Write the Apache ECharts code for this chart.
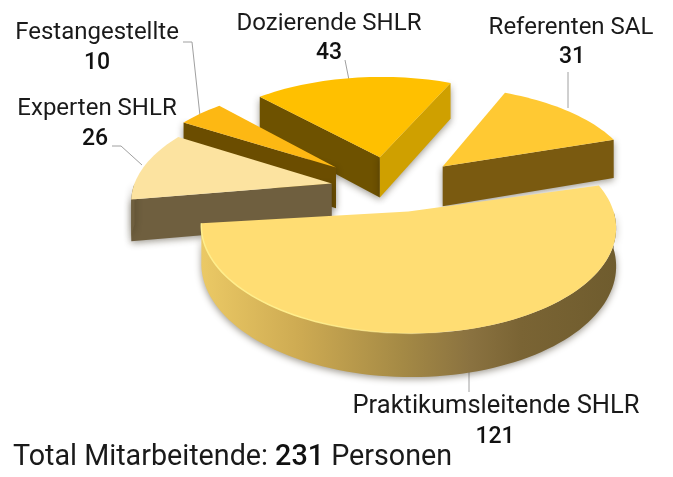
<!DOCTYPE html>
<html>
<head>
<meta charset="utf-8">
<title>Mitarbeitende</title>
<style>
  html, body { margin: 0; padding: 0; background: #fff; }
  #chart { width: 673px; height: 477px; }
</style>
<script src="https://cdn.jsdelivr.net/npm/echarts@6/dist/echarts.min.js"></script>
</head>
<body>
<div id="chart"></div>
<script>
// werte, im uhrzeigersinn ab dem grossen stueck
const categories = ['Praktikumsleitende SHLR', 'Experten SHLR', 'Festangestellte', 'Dozierende SHLR', 'Referenten SAL'];
const values = [121, 26, 10, 43, 31];
const totalLabel = 231;

// aussehen pro stueck (gleiche reihenfolge wie categories)
const topColors = ['#FFDD73', '#FCE3A0', '#FDB813', '#FFC000', '#FFC933'];
const wallColors = ['#7A6434', '#6F5F3F', '#6B4D00', '#6E5200', '#7A5A10'];
const endWallColors = ['#7A6434', '#6F5F3F', '#6B4D00', '#CFA000', '#7A5A10'];
const offsets = [[0.081, 0.257], [-0.31, -0.027], [-0.295, -0.20], [-0.065, -0.315], [0.2675, -0.211]];
const scales = [1.015, 1.015, 1.03, 1.04, 1];
const depths = [36, 41, 42, 42, 41];
const angleShift = [3, 0, 0, 0, 0];
const drawOrder = [5, 4, 3, 1, 2];

// pseudo 3d kamera
const cx = 392, cy = 186, R = 195, tilt = 0.49, persp = 0.138;
const startAngle = -18;

const total = values.reduce((a, b) => a + b, 0);
const rad = Math.PI / 180;

function project(X, Y, Z) {
  const w = 1 / (1 - persp * Y);
  return [cx + R * X * w, cy + (R * tilt * Y + Z) * w];
}

function sliceAngles(i) {
  let a = startAngle;
  for (let k = 0; k < i; k++) a += values[k] / total * 360;
  return [a + angleShift[i], a + angleShift[i] + values[i] / total * 360];
}

function shadowStyle(fill) {
  return { fill: fill, shadowBlur: 7, shadowColor: 'rgba(40,30,10,0.45)', shadowOffsetY: 2 };
}

function renderSlice(params, api) {
  const i = api.value(0);
  const [a0, a1] = sliceAngles(i);
  const ox = offsets[i][0], oy = offsets[i][1], r = scales[i], depth = depths[i];
  const z2 = drawOrder[i] * 10;
  const children = [];

  function rim(t, z) {
    return project(ox + r * Math.cos(t * rad), oy + r * Math.sin(t * rad), z);
  }
  function arc(from, to, z) {
    const pts = [];
    const n = Math.max(2, Math.ceil((to - from) / 2));
    for (let k = 0; k <= n; k++) pts.push(rim(from + (to - from) * k / n, z));
    return pts;
  }
  function wall(pts, fill) {
    children.push({ type: 'polygon', z2: z2, shape: { points: pts }, style: shadowStyle(fill) });
  }

  // waende, nur was zur kamera zeigt
  const apexTop = project(ox, oy, 0);
  const apexBot = project(ox, oy, depth);
  if (Math.cos(a0 * rad) < 0) wall([apexTop, rim(a0, 0), rim(a0, depth), apexBot], wallColors[i]);
  if (Math.cos(a1 * rad) > 0) wall([apexTop, rim(a1, 0), rim(a1, depth), apexBot], endWallColors[i]);

  // aussenwand vorne
  const f0 = Math.max(a0, 0), f1 = Math.min(a1, 180);
  if (f1 > f0) {
    const fill = i !== 0 ? wallColors[i] : new echarts.graphic.LinearGradient(0, 0, 1, 0, [
      { offset: 0, color: '#EBC965' },
      { offset: 0.24, color: '#CDAA52' },
      { offset: 0.48, color: '#A58A45' },
      { offset: 0.65, color: '#8A7240' },
      { offset: 0.77, color: '#7A6434' },
      { offset: 1, color: '#6F5C2E' }
    ]);
    wall(arc(f0, f1, 0).concat(arc(f0, f1, depth).reverse()), fill);
  }

  // deckel
  children.push({
    type: 'polygon', z2: z2 + 1,
    shape: { points: [apexTop].concat(arc(a0, a1, 0)) },
    style: { fill: topColors[i] }
  });
  // heller rand links am grossen stueck, laeuft nach rechts aus
  if (i === 0) {
    children.push({
      type: 'polyline', z2: z2 + 2,
      shape: { points: arc(80, a1, 0) },
      style: {
        fill: null,
        lineWidth: 1.5,
        stroke: new echarts.graphic.LinearGradient(1, 0, 0, 0, [
          { offset: 0, color: 'rgba(255,238,140,0)' },
          { offset: 0.6, color: 'rgba(255,238,140,1)' },
          { offset: 1, color: 'rgba(255,238,140,1)' }
        ])
      }
    });
  }
  return { type: 'group', children: children };
}

// beschriftung, [x mitte, y mitte name, x mitte zahl, y mitte zahl]
const labelPos = [
  [496, 407, 495, 437],
  [97, 109, 95, 139],
  [97, 33, 97, 63],
  [329, 24, 329, 53],
  [571, 28, 572, 57]
];
const labelSizes = [25.5, 24, 24, 24, 24];
const leaders = [
  [[469, 370], [469, 392]],
  [[112, 146], [121, 146], [142, 165]],
  [[183, 42], [192, 42], [200, 116]],
  [[345, 60], [349, 80]],
  [[568, 72], [568, 108]]
];

const fontFamily = 'Roboto, "Noto Sans", sans-serif';
const graphics = [];
categories.forEach(function (name, i) {
  const p = labelPos[i];
  graphics.push({
    type: 'text', x: p[0], y: p[1],
    style: { text: name, fill: '#1a1a1a', font: '400 ' + labelSizes[i] + 'px ' + fontFamily, align: 'center', verticalAlign: 'middle' }
  });
  graphics.push({
    type: 'text', x: p[2], y: p[3],
    style: { text: String(values[i]), fill: '#111', font: '500 23px ' + fontFamily, align: 'center', verticalAlign: 'middle' }
  });
  graphics.push({
    type: 'polyline', shape: { points: leaders[i] },
    style: { fill: null, stroke: '#a0a0a0', lineWidth: 1 }
  });
});
graphics.push({
  type: 'text', x: 13, y: 458,
  style: {
    text: '{a|Total Mitarbeitende: }{b|' + totalLabel + '}{a| Personen}',
    verticalAlign: 'middle',
    rich: {
      a: { font: '400 28.7px ' + fontFamily, fill: '#1a1a1a' },
      b: { font: '500 28.7px ' + fontFamily, fill: '#111' }
    }
  }
});

const chart = echarts.init(document.getElementById('chart'), null, { renderer: 'canvas' });
chart.setOption({
  animation: false,
  backgroundColor: '#fff',
  graphic: graphics,
  series: [{
    type: 'custom',
    coordinateSystem: 'none',
    silent: true,
    renderItem: renderSlice,
    data: values.map(function (v, i) { return [i, v]; })
  }]
});
</script>
</body>
</html>
